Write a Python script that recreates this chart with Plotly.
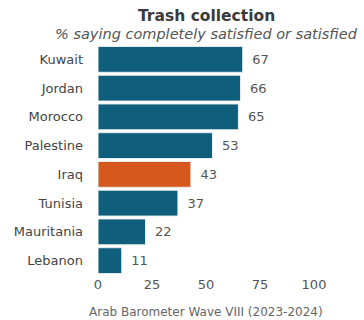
import plotly.graph_objects as go

countries = ["Kuwait", "Jordan", "Morocco", "Palestine", "Iraq", "Tunisia", "Mauritania", "Lebanon"]
values = [67, 66, 65, 53, 43, 37, 22, 11]
highlight = "Iraq"
x_ticks = [0, 25, 50, 75, 100]

TEAL = "#0f5e7b"
ORANGE = "#d6581c"
FONT = "DejaVu Sans"
GREY = "#444444"

W, H = 364, 320
M_L, M_R, M_T, M_B = 98, 50, 45, 45

colors = [ORANGE if c == highlight else TEAL for c in countries]

fig = go.Figure(
    go.Bar(
        x=values,
        y=countries,
        orientation="h",
        marker=dict(color=colors, line=dict(color="#e8eef0", width=1)),
        texttemplate="\u2002%{x}",
        textposition="outside",
        textfont=dict(family=FONT, size=13, color="#555555"),
        cliponaxis=False,
        hoverinfo="skip",
    )
)

plot_h = H - M_T - M_B


def py(pix_from_top):
    """Convert a pixel row (from the top of the page) to paper y."""
    return (H - M_B - pix_from_top) / plot_h


fig.update_layout(
    width=W,
    height=H,
    margin=dict(l=M_L, r=M_R, t=M_T, b=M_B),
    paper_bgcolor="white",
    plot_bgcolor="white",
    bargap=0.1,
    showlegend=False,
    font=dict(family=FONT, color=GREY),
    annotations=[
        dict(text="<b>Trash collection</b>", x=0.5, xref="paper", y=py(16), yref="paper",
             yanchor="middle", showarrow=False,
             font=dict(size=15.5, color="#3a3a3a", family=FONT)),
        dict(text="<i>% saying completely satisfied or satisfied</i>", x=0.5, xref="paper",
             y=py(34), yref="paper", yanchor="middle", showarrow=False,
             font=dict(size=14.5, color="#555555", family=FONT)),
        dict(text="Arab Barometer Wave VIII (2023-2024)", x=0.5, xref="paper", y=py(312),
             yref="paper", yanchor="middle", showarrow=False,
             font=dict(size=12, color="#666666", family=FONT)),
    ],
)

fig.update_xaxes(
    range=[0, 100],
    tickvals=x_ticks,
    ticktext=[str(t) for t in x_ticks],
    showgrid=False,
    zeroline=False,
    showline=False,
    ticks="",
    tickfont=dict(size=13, color="#555555", family=FONT),
)
fig.update_yaxes(
    categoryorder="array",
    categoryarray=countries[::-1],
    showgrid=False,
    ticks="",
    ticklabelstandoff=14,
    tickfont=dict(size=13, color="#444444", family=FONT),
)

fig.write_html("out.html")
